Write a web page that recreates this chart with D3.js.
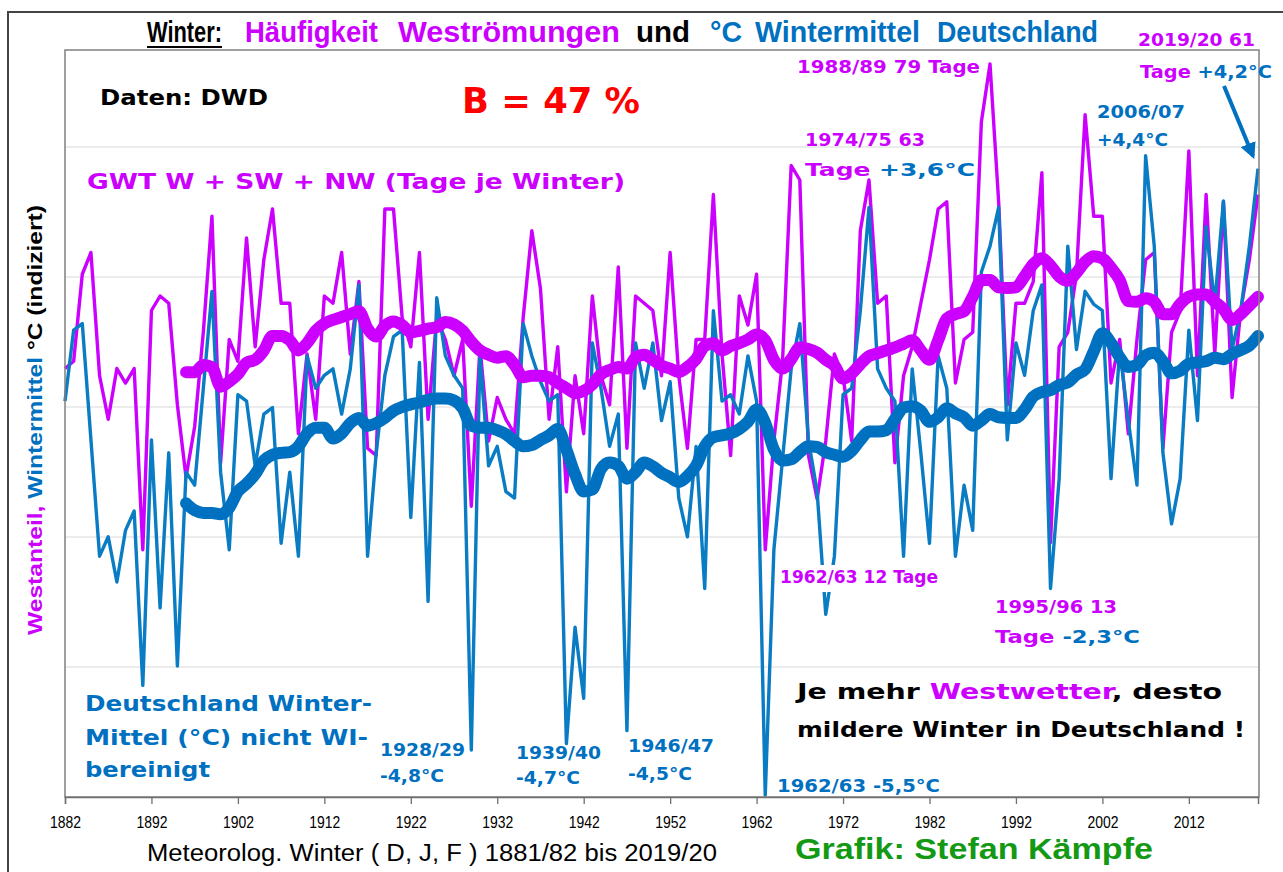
<!DOCTYPE html>
<html lang="de">
<head>
<meta charset="UTF-8">
<title>Winter: Westströmungen und Wintermittel Deutschland</title>
<style>
  body { margin: 0; background: #fff; }
  svg { display: block; }
</style>
</head>
<body>
<script src="https://cdn.jsdelivr.net/npm/d3@7/dist/d3.min.js"></script>
<script>
// Winter 1881/82 .. 2019/20 (labelled by the January year)
const years = d3.range(1882, 2021);

// GWT W + SW + NW, days per winter
const westDays = [
  37, 38, 50, 53, 36, 30, 37, 35, 37, 12,
  45, 47, 46, 32, 22, 29, 42, 58, 24, 41,
  38, 55, 40, 52, 59, 46, 46, 28, 39, 30,
  47, 46, 53, 39, 49, 26, 25, 59, 59, 44,
  40, 53, 30, 44, 41, 36, 41, 18, 40, 27,
  33, 30, 28, 44, 56, 48, 30, 40, 20, 36,
  28, 47, 36, 32, 51, 26, 47, 46, 45, 36,
  53, 36, 26, 41, 41, 61, 39, 25, 47, 43,
  50, 12, 27, 38, 65, 63, 25, 19, 27, 39,
  36, 27, 56, 63, 46, 47, 24, 36, 40, 46,
  52, 59, 60, 35, 41, 42, 71, 79, 60, 32,
  46, 46, 49, 64, 13, 40, 42, 50, 72, 58,
  58, 35, 41, 28, 41, 52, 53, 26, 42, 45,
  67, 36, 61, 39, 60, 33, 45, 52, 61
];

// Germany winter mean temperature, deg C
const tempC = [
  0.6, 1.7, 1.8, 0.0, -1.8, -1.5, -2.2, -1.4, -1.1, -3.8,
  0.0, -2.6, -0.2, -3.5, -0.5, -0.7, 0.8, 2.3, -0.5, -1.7,
  0.7, 0.6, -0.4, 0.4, 0.5, -1.6, -0.5, -1.8, 1.3, 0.8,
  1.0, 1.1, 0.4, 1.1, 2.4, -1.8, -0.2, 1.0, 1.6, 1.7,
  -1.2, 1.2, -2.5, 2.2, 1.3, 1.0, 0.8, -4.8, 1.3, -0.4,
  -0.1, -0.8, -0.9, 1.8, 1.3, 0.9, 0.6, 0.7, -4.7, -2.9,
  -4.0, 1.5, 0.8, -0.1, 0.4, -4.5, 1.5, 0.8, 1.5, 0.3,
  0.9, -0.9, -1.5, -0.1, -2.3, 2.0, 0.6, 0.7, 0.4, 1.3,
  0.6, -5.5, -1.7, -0.3, 1.1, 1.8, 0.0, -0.8, -2.7, -1.8,
  0.7, 0.8, 2.0, 3.6, 1.1, 0.8, 0.6, -1.8, 1.1, -0.2,
  -1.6, 1.3, 0.8, -1.8, -0.7, -1.4, 2.6, 3.0, 3.6, 0.0,
  1.5, 1.0, 2.0, 2.4, -2.3, -0.6, 3.0, 1.4, 2.3, 2.1,
  2.0, -0.6, 1.4, 0.3, -0.7, 4.4, 3.0, -0.2, -1.3, -0.6,
  1.7, 0.3, 3.3, 2.1, 3.7, 1.4, 2.0, 3.0, 4.2
];

// 15-year running means, as drawn (from winter 1895/96 on)
const maStart = 1896;
const westMA = [
  36.5, 36.5, 37.5, 37.2, 34.5, 35.2, 36.2, 37.8, 38.2, 39.5,
  41.5, 41.5, 40.9, 39.5, 40.5, 42.2, 43.2, 43.7, 44.1, 44.5,
  44.9, 42.5, 41.4, 42.9, 43.5, 43.0, 42.0, 42.2, 42.5, 42.7,
  43.4, 43.1, 42.2, 40.7, 39.5, 38.9, 38.5, 38.7, 37.5, 35.8,
  36.0, 36.0, 35.8, 35.0, 34.3, 33.6, 33.9, 34.8, 36.2, 36.8,
  37.2, 37.0, 38.5, 38.9, 38.2, 37.4, 37.0, 36.5, 37.2, 38.3,
  40.1, 40.5, 39.5, 40.1, 40.5, 41.0, 41.7, 40.9, 38.2, 37.0,
  38.3, 39.9, 39.7, 39.2, 38.2, 37.4, 35.6, 36.3, 37.6, 38.7,
  39.1, 39.5, 39.9, 40.4, 40.9, 39.5, 38.2, 40.9, 43.9, 44.5,
  44.9, 46.9, 49.2, 49.2, 48.2, 48.1, 48.2, 49.7, 51.4, 52.2,
  51.2, 49.7, 49.1, 50.2, 51.7, 52.5, 52.2, 50.9, 49.2, 46.3,
  46.2, 46.7, 46.2, 44.5, 44.5, 45.9, 46.9, 47.2, 47.2, 46.2,
  45.2, 43.7, 44.5, 45.7, 46.9
];
const tempMA = [
  -0.98, -1.09, -1.13, -1.13, -1.15, -1.05, -0.80, -0.68, -0.53, -0.32,
  -0.23, -0.20, -0.19, -0.10, 0.10, 0.19, 0.19, 0.02, 0.10, 0.26,
  0.34, 0.22, 0.26, 0.34, 0.45, 0.51, 0.55, 0.58, 0.62, 0.64,
  0.64, 0.61, 0.49, 0.22, 0.19, 0.19, 0.15, 0.09, -0.02, -0.10,
  -0.08, 0.00, 0.07, 0.17, -0.15, -0.53, -0.80, -0.77, -0.45, -0.35,
  -0.40, -0.60, -0.50, -0.35, -0.41, -0.51, -0.58, -0.65, -0.56, -0.40,
  -0.10, 0.04, 0.07, 0.10, 0.17, 0.28, 0.47, 0.26, -0.15, -0.32,
  -0.30, -0.19, -0.10, -0.11, -0.19, -0.23, -0.26, -0.17, 0.00, 0.13,
  0.13, 0.15, 0.32, 0.50, 0.52, 0.45, 0.28, 0.35, 0.49, 0.41,
  0.35, 0.22, 0.30, 0.40, 0.35, 0.34, 0.34, 0.47, 0.67, 0.74,
  0.77, 0.85, 0.89, 1.01, 1.09, 1.37, 1.65, 1.50, 1.28, 1.13,
  1.16, 1.31, 1.35, 1.22, 1.03, 1.07, 1.18, 1.20, 1.22, 1.27,
  1.25, 1.33, 1.39, 1.46, 1.61
];

const tickYears = [1882, 1892, 1902, 1912, 1922, 1932, 1942, 1952, 1962, 1972, 1982, 1992, 2002, 2012];
const gridSteps = [1, 2, 3, 4, 5];

const MAG = '#cc00ff';
const BLUE = '#0070c0';
const NARROW = '"Liberation Sans Narrow", "Arial Narrow", "Liberation Sans", Arial, sans-serif';
const WIDE = '"DejaVu Sans", Verdana, sans-serif';

const w = 1283;
const h = 872;
const pLeft = 65, pRight = 1258, pTop = 50, pBottom = 797;

const x = d3.scaleLinear().domain([1882, 2020]).range([pLeft, pRight]);
// both value axes are hidden, only their placement matters
const yWest = d3.scaleLinear().domain([-22.1, 80.93]).range([pBottom, pTop]);
const yTemp = d3.scaleLinear().domain([-5.528, 6.036]).range([pBottom, pTop]);
const yGrid = d3.scaleLinear().domain([0, (pBottom - pTop) / 130]).range([pBottom, pTop]);

const svg = d3.select('body')
  .append('svg')
  .attr('width', w)
  .attr('height', h);

// outer border of the picture
svg.append('rect')
  .attr('x', 8).attr('y', 12)
  .attr('width', 1300).attr('height', 900)
  .attr('fill', 'none')
  .attr('stroke', '#444')
  .attr('stroke-width', 2);

// horizontal gridlines
svg.append('g')
  .selectAll('line')
  .data(gridSteps)
  .enter()
  .append('line')
  .attr('x1', pLeft).attr('x2', pRight)
  .attr('y1', d => yGrid(d)).attr('y2', d => yGrid(d))
  .attr('stroke', '#d9d9d9')
  .attr('stroke-width', 1.2);

const westLine = d3.line().x((d, i) => x(years[i])).y(d => yWest(d));
const tempLine = d3.line().x((d, i) => x(years[i])).y(d => yTemp(d));
const westMALine = d3.line().x((d, i) => x(maStart + i)).y(d => yWest(d)).curve(d3.curveMonotoneX);
const tempMALine = d3.line().x((d, i) => x(maStart + i)).y(d => yTemp(d)).curve(d3.curveMonotoneX);

svg.append('path').datum(westDays)
  .attr('d', westLine)
  .attr('fill', 'none').attr('stroke', MAG)
  .attr('stroke-width', 3.4).attr('stroke-linejoin', 'round');

svg.append('path').datum(tempC)
  .attr('d', tempLine)
  .attr('fill', 'none').attr('stroke', '#0a7cc4')
  .attr('stroke-width', 3.4).attr('stroke-linejoin', 'round');

svg.append('path').datum(westMA)
  .attr('d', westMALine)
  .attr('fill', 'none').attr('stroke', MAG)
  .attr('stroke-width', 12).attr('stroke-linejoin', 'round').attr('stroke-linecap', 'round');

svg.append('path').datum(tempMA)
  .attr('d', tempMALine)
  .attr('fill', 'none').attr('stroke', BLUE)
  .attr('stroke-width', 12).attr('stroke-linejoin', 'round').attr('stroke-linecap', 'round');

// plot frame
svg.append('rect')
  .attr('x', pLeft).attr('y', pTop)
  .attr('width', pRight - pLeft + 1).attr('height', pBottom - pTop)
  .attr('fill', 'none')
  .attr('stroke', '#808080')
  .attr('stroke-width', 1.5);

// x axis
const xAxis = svg.append('g')
  .attr('transform', `translate(0,${pBottom})`)
  .call(d3.axisBottom(x).tickValues(tickYears).tickFormat(d3.format('d')).tickSize(7).tickPadding(12));
xAxis.select('.domain').attr('stroke', '#707070').attr('stroke-width', 1.5);
xAxis.selectAll('.tick line').attr('stroke', '#707070').attr('stroke-width', 1.3);
xAxis.selectAll('.tick text')
  .attr('font-family', NARROW)
  .attr('font-size', 17)
  .attr('fill', '#000')
  .attr('textLength', 31)
  .attr('lengthAdjust', 'spacingAndGlyphs');

// text helper: parts = [[text, colour], ...]
function label(xp, yp, parts, opt) {
  const t = svg.append('text')
    .attr('x', xp).attr('y', yp)
    .attr('font-family', opt.family || WIDE)
    .attr('font-weight', opt.weight || 'bold')
    .attr('font-size', opt.size);
  if (opt.len) t.attr('textLength', opt.len).attr('lengthAdjust', 'spacingAndGlyphs');
  if (opt.transform) t.attr('transform', opt.transform);
  parts.forEach(p => {
    t.append('tspan').attr('fill', p[1]).text(p[0]);
  });
  return t;
}

// white box behind the 1962/63 label (it hides the lines there)
svg.append('rect')
  .attr('x', 776).attr('y', 565).attr('width', 186).attr('height', 27)
  .attr('fill', '#fff');

// title, word groups placed as in the original
const titleParts = [
  ['Winter:', '#000', 147, 75],
  ['Häufigkeit', MAG, 245, 133],
  ['Weströmungen', MAG, 398, 222],
  ['und', '#000', 636, 54],
  ['°C', BLUE, 710, 32],
  ['Wintermittel', BLUE, 755, 165],
  ['Deutschland', BLUE, 937, 161]
];
titleParts.forEach(p => {
  label(p[2], 42, [[p[0], p[1]]], { family: NARROW, size: 29, len: p[3] });
});
svg.append('line')
  .attr('x1', 147).attr('x2', 222).attr('y1', 47).attr('y2', 47)
  .attr('stroke', '#000').attr('stroke-width', 2);

// annotations
label(100, 105, [['Daten: DWD', '#000']], { size: 22, len: 168 });
label(462, 113, [['B = 47 %', '#ff0000']], { size: 35, len: 178 });
label(87, 189, [['GWT W + SW + NW (Tage je Winter)', MAG]], { size: 22, len: 538 });

label(797, 73, [['1988/89 79 Tage', MAG]], { size: 17, len: 183 });
label(805, 146, [['1974/75 63', MAG]], { size: 17, len: 120 });
label(805, 176, [['Tage ', MAG], ['+3,6°C', BLUE]], { size: 17, len: 170 });
label(1097, 118, [['2006/07', BLUE]], { size: 17, len: 88 });
label(1097, 146, [['+4,4°C', BLUE]], { size: 17, len: 71 });
label(1138, 46, [['2019/20 61', MAG]], { size: 17, len: 117 });
label(1140, 78, [['Tage ', MAG], ['+4,2°C', BLUE]], { size: 17, len: 132 });

label(780, 583, [['1962/63 12 Tage', MAG]], { size: 17, len: 158 });
label(995, 613, [['1995/96 13', MAG]], { size: 17, len: 122 });
label(995, 643, [['Tage ', MAG], ['-2,3°C', BLUE]], { size: 17, len: 145 });

label(85, 711, [['Deutschland Winter-', BLUE]], { size: 21, len: 287 });
label(85, 745, [['Mittel (°C) nicht WI-', BLUE]], { size: 21, len: 283 });
label(85, 777, [['bereinigt', BLUE]], { size: 21, len: 125 });

label(380, 756, [['1928/29', BLUE]], { size: 17, len: 85 });
label(380, 782, [['-4,8°C', BLUE]], { size: 17, len: 64 });
label(516, 759, [['1939/40', BLUE]], { size: 17, len: 85 });
label(516, 784, [['-4,7°C', BLUE]], { size: 17, len: 64 });
label(628, 752, [['1946/47', BLUE]], { size: 17, len: 86 });
label(628, 780, [['-4,5°C', BLUE]], { size: 17, len: 64 });
label(777, 792, [['1962/63 -5,5°C', BLUE]], { size: 17, len: 163 });

label(797, 699, [['Je mehr ', '#000'], ['Westwetter', MAG], [', desto', '#000']], { size: 21, len: 425 });
label(797, 737, [['mildere Winter in Deutschland !', '#000']], { size: 21, len: 448 });

// arrow to the 2019/20 point
svg.append('defs').append('marker')
  .attr('id', 'head')
  .attr('viewBox', '0 0 10 10')
  .attr('refX', 8).attr('refY', 5)
  .attr('markerWidth', 4).attr('markerHeight', 4)
  .attr('orient', 'auto')
  .append('path')
  .attr('d', 'M0,0 L10,5 L0,10 Z')
  .attr('fill', BLUE);
svg.append('line')
  .attr('x1', 1224).attr('y1', 86)
  .attr('x2', 1253).attr('y2', 156)
  .attr('stroke', BLUE).attr('stroke-width', 4)
  .attr('marker-end', 'url(#head)');

// axis titles
label(147, 861, [['Meteorolog.  Winter ( D, J, F ) 1881/82 bis 2019/20', '#000']],
  { family: NARROW, weight: 'normal', size: 23, len: 570 });
label(795, 859, [['Grafik: Stefan Kämpfe', '#149914']], { family: NARROW, size: 30, len: 358 });

label(0, 0, [['Westanteil,', MAG], [' Wintermittel', BLUE], [' °C (indiziert)', '#000']],
  { family: '"Liberation Sans", Arial, sans-serif', size: 20, len: 430, transform: 'translate(42,635) rotate(-90)' });
</script>
</body>
</html>
